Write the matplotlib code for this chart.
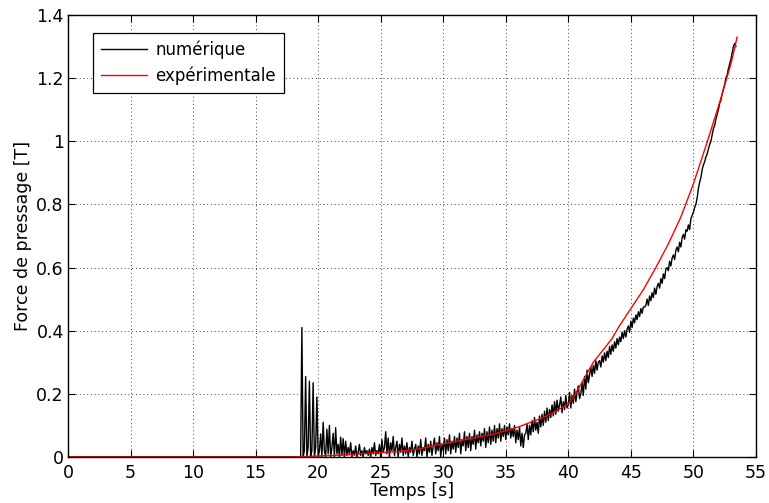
import numpy as np
import matplotlib
matplotlib.use("Agg")
import matplotlib.pyplot as plt

plt.rcParams['font.family'] = ['DejaVu Sans']

# numerical force (sampled every 0.1 s from 18.5 s, zero before)
num_start = 18.5
num_step = 0.1
num_force = [
    0, 0, .41, 0, .02,
    .255, 0, .03, .24, 0, .02, .235, 0, .03, .19,
    0, .02, .073, 0, .11, .02, 0, .088, .01, .10,
    0, .03, .075, 0, .093, .01, .04, 0, .063, .005,
    .058, 0, .05, .005, .03, .01, .045, 0, .02, .005,
    .035, 0, .015, .04, .005, .02, 0, .03, .01, .02,
    .005, .025, 0, .03, .01, .045, .005, .02, .01, .04,
    0, .055, .015, .03, .08, .01, .06, 0, .045, .02,
    .065, .005, .03, .05, 0, .04, .015, .06, .005, .035,
    .01, .045, 0, .03, .015, .05, .005, .025, .04, 0,
    .035, .01, .055, .005, .03, .02, .06, 0, .04, .015,
    .05, .005, .035, .06, .01, .045, .02, .065, 0, .04,
    .02, .06, .01, .055, .02, .07, .01, .05, .025, .065,
    .015, .06, .03, .075, .01, .055, .035, .08, .02, .065,
    .03, .075, .02, .065, .04, .085, .025, .07, .045, .08,
    .035, .075, .05, .09, .03, .08, .045, .095, .04, .085,
    .05, .10, .045, .09, .06, .105, .05, .09, .065, .10,
    .055, .095, .07, .105, .06, .09, .065, .10, .045, .085,
    .055, .095, .035, .075, .03, .07, .075, .105, .055, .10,
    .07, .115, .08, .125, .085, .11, .075, .13, .095, .135,
    .10, .145, .11, .155, .115, .15, .125, .165, .13, .175,
    .135, .18, .145, .165, .19, .14, .175, .15, .195, .155,
    .165, .205, .155, .195, .17, .215, .175, .205, .225, .185,
    .20, .235, .195, .255, .215, .275, .235, .26, .285, .255,
    .29, .265, .305, .275, .30, .305, .285, .32, .30, .33,
    .305, .335, .315, .35, .325, .355, .335, .365, .345, .375,
    .355, .38, .365, .395, .375, .40, .38, .405, .415, .395,
    .43, .41, .44, .425, .45, .435, .46, .445, .47, .455,
    .475, .475, .48, .50, .48, .51, .495, .52, .505, .535,
    .515, .54, .55, .535, .565, .55, .58, .565, .595, .60,
    .59, .62, .605, .63, .64, .625, .655, .665, .65, .68,
    .665, .695, .705, .69, .72, .715, .735, .72, .755, .765,
    .775, .79, .80, .82, .85, .87, .885, .91, .925, .935,
    .95, .96, .975, .99, 1.0, 1.02, 1.04, 1.05, 1.07, 1.085,
    1.10, 1.12, 1.13, 1.15, 1.165, 1.18, 1.20, 1.21, 1.23, 1.245,
    1.26, 1.28, 1.30, 1.31, 1.30,
]

# experimental force
exp_time = [0, 18, 20, 22, 24, 26, 28, 30, 32, 34, 36, 38, 39, 40, 40.5, 41,
            41.5, 42, 42.5, 43, 43.5, 44, 45, 46, 47, 48, 49, 50, 51, 52, 53, 53.5]
exp_force = [0, 0, 0.003, 0.006, 0.012, 0.016, 0.025, 0.042, 0.057, 0.072, 0.095,
             0.125, 0.145, 0.168, 0.195, 0.23, 0.265, 0.30, 0.325, 0.35, 0.375,
             0.41, 0.47, 0.53, 0.60, 0.675, 0.76, 0.865, 0.985, 1.11, 1.245, 1.33]

num_time = np.concatenate([[0], num_start + num_step * np.arange(len(num_force))])
num_vals = np.concatenate([[0], num_force])

fig = plt.figure(figsize=(7.69, 5.03), dpi=100)
ax = fig.add_axes([0.0884, 0.0915, 0.8946, 0.8787])

ax.plot(num_time, num_vals, color='black', lw=1.0, label='numérique')
ax.plot(exp_time, exp_force, color='red', lw=1.0, label='expérimentale')

ax.set_xlim(0, 55)
ax.set_ylim(0, 1.4)
ax.set_xticks(np.arange(0, 56, 5))
ax.set_yticks(np.arange(0, 1.41, 0.2))
ax.set_yticklabels(['0', '0.2', '0.4', '0.6', '0.8', '1', '1.2', '1.4'])
ax.tick_params(direction='in', length=5, width=0.8, labelsize=12.5,
               top=True, right=True)
ax.tick_params(axis='x', pad=5)
ax.tick_params(axis='y', pad=3)
ax.grid(True, color='black', linestyle=(0, (1, 3.5)), lw=0.6)
for s in ax.spines.values():
    s.set_linewidth(1.0)

ax.set_xlabel('Temps [s]', fontsize=12.5, labelpad=0)
ax.set_ylabel('Force de pressage [T]', fontsize=12.5, labelpad=3)

leg = ax.legend(loc='upper left', bbox_to_anchor=(0.0364, 0.959), borderaxespad=0,
                fontsize=12, fancybox=False, framealpha=1, edgecolor='black',
                handlelength=2.8, handletextpad=0.5, borderpad=0.45,
                labelspacing=0.45)
leg.get_frame().set_linewidth(0.9)

fig.savefig('out.png', dpi=100)
